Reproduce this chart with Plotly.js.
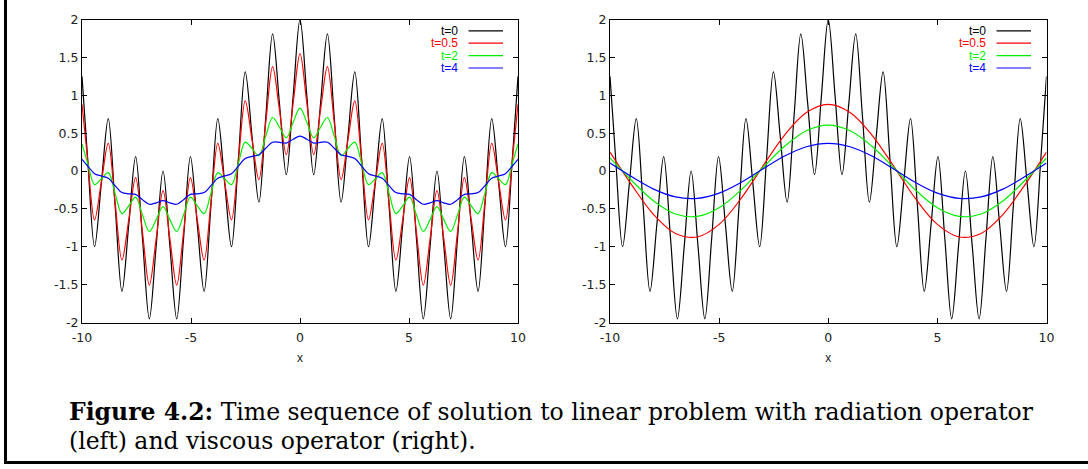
<!DOCTYPE html>
<html>
<head>
<meta charset="utf-8">
<script src="https://cdn.plot.ly/plotly-3.0.1.min.js"></script>
<style>
  html, body { margin: 0; padding: 0; background: #fff; }
  #chart { width: 1088px; height: 469px; }
</style>
</head>
<body>
<div id="chart"></div>
<script>
// ---- data ----
// x positions of the sampled points (extrema and mid-points of the fast ripple)
const xFine = [-10, -9.739, -9.425, -9.111, -8.796, -8.482, -8.168, -7.854, -7.540, -7.226, -6.912,
  -6.597, -6.283, -5.969, -5.655, -5.341, -5.027, -4.712, -4.398, -4.084, -3.770, -3.456, -3.142,
  -2.827, -2.513, -2.199, -1.885, -1.571, -1.257, -0.942, -0.628, -0.314, 0,
  0.314, 0.628, 0.942, 1.257, 1.571, 1.885, 2.199, 2.513, 2.827, 3.142, 3.456, 3.770, 4.084,
  4.398, 4.712, 5.027, 5.341, 5.655, 5.969, 6.283, 6.597, 6.912, 7.226, 7.540, 7.854, 8.168,
  8.482, 8.796, 9.111, 9.425, 9.739, 10];

// initial condition t=0 (same in both panels)
const u_t0 = [1.249,
  0.156, -1, -0.156, 0.691, -0.454, -1.588, -0.707, 0.191, -0.891, -1.951, -0.988, 0, -0.988, -1.951,
  -0.891, 0.191, -0.707, -1.588, -0.454, 0.691, -0.156, -1, 0.156, 1.309, 0.454, -0.412, 0.707, 1.809,
  0.891, -0.049, 0.988,
  2,
  0.988, -0.049, 0.891, 1.809, 0.707, -0.412, 0.454, 1.309, 0.156, -1, -0.156, 0.691, -0.454, -1.588,
  -0.707, 0.191, -0.891, -1.951, -0.988, 0, -0.988, -1.951, -0.891, 0.191, -0.707, -1.588, -0.454,
  0.691, -0.156, -1, 0.156,
  1.249];

// radiation operator (left panel)
const rad_t05 = [0.879,
  0.142, -0.645, -0.142, 0.365, -0.411, -1.177, -0.640, -0.087, -0.806, -1.506, -0.894, -0.260, -0.894,
  -1.506, -0.806, -0.087, -0.640, -1.177, -0.411, 0.365, -0.142, -0.645, 0.142, 0.925, 0.411, -0.113,
  0.640, 1.377, 0.806, 0.216, 0.894,
  1.550,
  0.894, 0.216, 0.806, 1.377, 0.640, -0.113, 0.411, 0.925, 0.142, -0.645, -0.142, 0.365, -0.411, -1.177,
  -0.640, -0.087, -0.806, -1.506, -0.894, -0.260, -0.894, -1.506, -0.806, -0.087, -0.640, -1.177,
  -0.411, 0.365, -0.142, -0.645, 0.142,
  0.879];

const rad_t2 = [0.358,
  0.102, -0.180, -0.102, -0.021, -0.295, -0.562, -0.460, -0.346, -0.579, -0.798, -0.642, -0.470, -0.642,
  -0.798, -0.579, -0.346, -0.460, -0.562, -0.295, -0.021, -0.102, -0.180, 0.102, 0.381, 0.295, 0.202,
  0.460, 0.706, 0.579, 0.438, 0.642,
  0.830,
  0.642, 0.438, 0.579, 0.706, 0.460, 0.202, 0.295, 0.381, 0.102, -0.180, -0.102, -0.021, -0.295, -0.562,
  -0.460, -0.346, -0.579, -0.798, -0.642, -0.470, -0.642, -0.798, -0.579, -0.346, -0.460, -0.562,
  -0.295, -0.021, -0.102, -0.180, 0.102,
  0.358];

const rad_t4 = [0.155,
  0.066, -0.035, -0.066, -0.096, -0.193, -0.285, -0.301, -0.309, -0.379, -0.439, -0.420, -0.390, -0.420,
  -0.439, -0.379, -0.309, -0.301, -0.285, -0.193, -0.096, -0.066, -0.035, 0.066, 0.166, 0.193, 0.215,
  0.301, 0.379, 0.379, 0.369, 0.420,
  0.460,
  0.420, 0.369, 0.379, 0.379, 0.301, 0.215, 0.193, 0.166, 0.066, -0.035, -0.066, -0.096, -0.193, -0.285,
  -0.301, -0.309, -0.379, -0.439, -0.420, -0.390, -0.420, -0.439, -0.379, -0.309, -0.301, -0.285,
  -0.193, -0.096, -0.066, -0.035, 0.066,
  0.155];

// viscous operator (right panel) - smooth curves
const xCoarse = [-10, -9, -8, -7, -6, -5, -4, -3, -2, -1, 0, 1, 2, 3, 4, 5, 6, 7, 8, 9, 10];
const visc_t05 = [0.250, -0.186, -0.575, -0.824, -0.871, -0.705, -0.366, 0.062, 0.475, 0.772, 0.880,
  0.772, 0.475, 0.062, -0.366, -0.705, -0.871, -0.824, -0.575, -0.186, 0.250];
const visc_t2 = [0.172, -0.128, -0.395, -0.567, -0.599, -0.485, -0.252, 0.043, 0.327, 0.531, 0.605,
  0.531, 0.327, 0.043, -0.252, -0.485, -0.599, -0.567, -0.395, -0.128, 0.172];
const visc_t4 = [0.104, -0.077, -0.239, -0.342, -0.361, -0.292, -0.152, 0.026, 0.197, 0.320, 0.365,
  0.320, 0.197, 0.026, -0.152, -0.292, -0.361, -0.342, -0.239, -0.077, 0.104];

const seriesNames = ["t=0", "t=0.5", "t=2", "t=4"];
const seriesColors = ["#000000", "#ff0000", "#00ee00", "#0000ff"];

const xTickVals = [-10, -5, 0, 5, 10];
const xTickText = ["-10", "-5", "0", "5", "10"];
const yTickVals = [-2, -1.5, -1, -0.5, 0, 0.5, 1, 1.5, 2];
const yTickText = ["-2", "-1.5", "-1", "-0.5", "0", "0.5", "1", "1.5", "2"];

const captionBold = "Figure 4.2:";
const captionLine1 = "Time sequence of solution to linear problem with radiation operator";
const captionLine2 = "(left) and viscous operator (right).";

// ---- figure ----
const W = 1088, H = 469;
const px = v => v / W;
const py = v => 1 - v / H;

function curve(x, y, i, xa, ya) {
  return {
    x: x, y: y, xaxis: xa, yaxis: ya, type: "scatter", mode: "lines",
    name: seriesNames[i], showlegend: false,
    line: { color: seriesColors[i], width: 1.2, shape: "spline", smoothing: 1 }
  };
}

const traces = [
  curve(xFine, u_t0, 0, "x", "y"),
  curve(xFine, rad_t05, 1, "x", "y"),
  curve(xFine, rad_t2, 2, "x", "y"),
  curve(xFine, rad_t4, 3, "x", "y"),
  curve(xFine, u_t0, 0, "x2", "y2"),
  curve(xCoarse, visc_t05, 1, "x2", "y2"),
  curve(xCoarse, visc_t2, 2, "x2", "y2"),
  curve(xCoarse, visc_t4, 3, "x2", "y2")
];

const tickFont = { family: "DejaVu Sans, Liberation Sans, sans-serif", size: 12.5, color: "#222" };
const titleFont = { family: "Liberation Sans, Arial, sans-serif", size: 12, color: "#222" };

function xAxis(domain, anchor) {
  return {
    domain: domain, anchor: anchor, range: [-10, 10],
    showgrid: false, zeroline: false, showline: true, mirror: "allticks",
    linecolor: "#000", linewidth: 1, ticks: "inside", ticklen: 5, tickwidth: 1, tickcolor: "#000",
    tickmode: "array", tickvals: xTickVals, ticktext: xTickText, tickfont: tickFont,
    ticklabelstandoff: 3,
    title: { text: "x", font: titleFont, standoff: 10 }
  };
}
function yAxis(domain, anchor) {
  return {
    domain: domain, anchor: anchor, range: [-2, 2],
    showgrid: false, zeroline: false, showline: true, mirror: "allticks",
    linecolor: "#000", linewidth: 1, ticks: "inside", ticklen: 5, tickwidth: 1, tickcolor: "#000",
    tickmode: "array", tickvals: yTickVals, ticktext: yTickText, tickfont: tickFont
  };
}

const yDom = [py(322.5), py(19.5)];
const panels = [
  { textRight: 459.5, lineL: 468.5, lineR: 503 },
  { textRight: 988, lineL: 996.5, lineR: 1031 }
];
const legendY = [30.8, 43.2, 55.6, 68.0];

const annotations = [];
const shapes = [];
panels.forEach(p => {
  seriesNames.forEach((nm, i) => {
    annotations.push({
      xref: "paper", yref: "paper", x: px(p.textRight), y: py(legendY[i]),
      xanchor: "right", yanchor: "middle", showarrow: false, text: nm,
      font: { family: "Liberation Sans, Arial, sans-serif", size: 12, color: seriesColors[i] }
    });
    shapes.push({
      type: "line", xref: "paper", yref: "paper",
      x0: px(p.lineL), x1: px(p.lineR), y0: py(legendY[i]), y1: py(legendY[i]),
      line: { color: seriesColors[i], width: 1.2 }
    });
  });
});

// caption
const capFont = { family: "DejaVu Serif, Liberation Serif, serif", size: 23.5, color: "#000" };
annotations.push({
  xref: "paper", yref: "paper", x: px(67), y: py(412), xanchor: "left", yanchor: "middle",
  showarrow: false, text: "<b>" + captionBold + "</b> " + captionLine1, font: capFont
});
annotations.push({
  xref: "paper", yref: "paper", x: px(67), y: py(441), xanchor: "left", yanchor: "middle",
  showarrow: false, text: captionLine2, font: capFont
});

// figure frame (left and bottom rules)
shapes.push({ type: "line", xref: "paper", yref: "paper", x0: px(5.5), x1: px(5.5), y0: 1, y1: py(462.5),
  line: { color: "#000", width: 3 } });
shapes.push({ type: "line", xref: "paper", yref: "paper", x0: px(4), x1: 1, y0: py(462.5), y1: py(462.5),
  line: { color: "#000", width: 3 } });

const layout = {
  width: W, height: H,
  margin: { l: 0, r: 0, t: 0, b: 0 },
  paper_bgcolor: "#fff", plot_bgcolor: "#fff",
  showlegend: false,
  xaxis: xAxis([px(82), px(518)], "y"),
  yaxis: yAxis(yDom, "x"),
  xaxis2: xAxis([px(610), px(1046.5)], "y2"),
  yaxis2: yAxis(yDom, "x2"),
  annotations: annotations,
  shapes: shapes
};

Plotly.newPlot("chart", traces, layout, { displayModeBar: false, staticPlot: true });
</script>
</body>
</html>
